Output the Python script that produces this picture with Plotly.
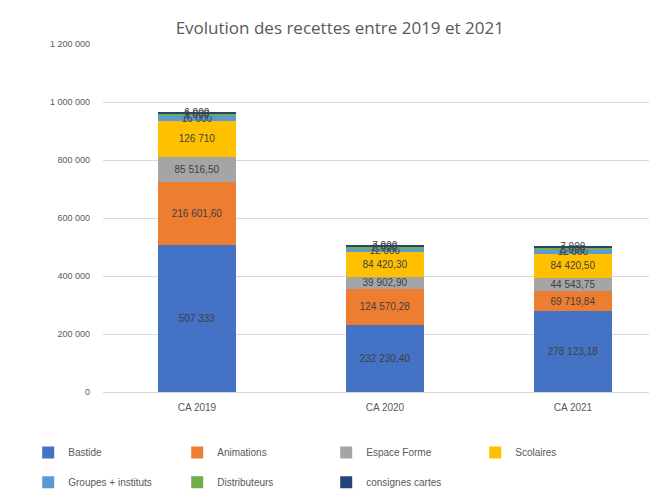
import plotly.graph_objects as go

categories = ["CA 2019", "CA 2020", "CA 2021"]
series_names = ["Bastide", "Animations", "Espace Forme", "Scolaires",
                "Groupes + instituts", "Distributeurs", "consignes cartes"]
bastide = [507333, 232230.40, 278123.18]
animations = [216601.60, 124570.28, 69719.84]
espace_forme = [85516.50, 39902.90, 44543.75]
scolaires = [126710, 84420.30, 84420.50]
groupes = [16000, 12000, 12000]
distributeurs = [9000, 8000, 8000]
consignes = [6000, 7000, 7000]
y_ticks = [0, 200000, 400000, 600000, 800000, 1000000, 1200000]

colors = ["#4472C4", "#ED7D31", "#A5A5A5", "#FFC000", "#5B9BD5", "#70AD47", "#264478"]
all_series = [bastide, animations, espace_forme, scolaires, groupes, distributeurs, consignes]


def fmt(v):
    if float(v).is_integer():
        s = f"{int(v):,}".replace(",", " ")
    else:
        s = f"{v:,.2f}".replace(",", " ").replace(".", ",")
    return s


fig = go.Figure()
for i, (name, vals, col) in enumerate(zip(series_names, all_series, colors)):
    fig.add_trace(go.Bar(
        name=name, x=categories, y=vals, marker_color=col, width=0.41,
        text=[fmt(v) for v in vals], textposition="inside", insidetextanchor="middle",
        textfont=dict(size=10, color="#404040", family="Liberation Sans"),
        marker_line_width=0,
        legend="legend" if i < 4 else "legend2",
    ))

leg_common = dict(orientation="h", xanchor="left", yanchor="top",
                  entrywidth=104, entrywidthmode="pixels", traceorder="normal",
                  font=dict(size=10, color="#595959"), itemwidth=30,
                  bgcolor="rgba(0,0,0,0)")

fig.update_layout(
    barmode="stack",
    width=657, height=492,
    paper_bgcolor="white", plot_bgcolor="white",
    margin=dict(l=95, r=8, t=36, b=108, autoexpand=False),
    separators=", ",
    uniformtext=dict(minsize=9, mode="show"),
    title=dict(text="Evolution des recettes entre 2019 et 2021", x=0.505, xanchor="center",
               y=0.959, yanchor="middle",
               font=dict(size=17, color="#595959", family="Open Sans")),
    font=dict(family="Liberation Sans", color="#595959"),
    legend=dict(x=-0.135, y=-0.132, **leg_common),
    legend2=dict(x=-0.135, y=-0.218, **leg_common),
    showlegend=True,
)
fig.update_xaxes(range=[-0.5, 2.447], showline=True, linecolor="#d9d9d9",
                 tickfont=dict(size=10, color="#595959"), ticks="", ticklabelstandoff=6)
fig.update_yaxes(range=[0, 1200000], tickvals=y_ticks, tickformat=",d",
                 showgrid=True, gridcolor="#d9d9d9", zeroline=False,
                 tickfont=dict(size=9, color="#595959"), ticks="", ticklabelstandoff=12)

fig.write_html("out.html")
